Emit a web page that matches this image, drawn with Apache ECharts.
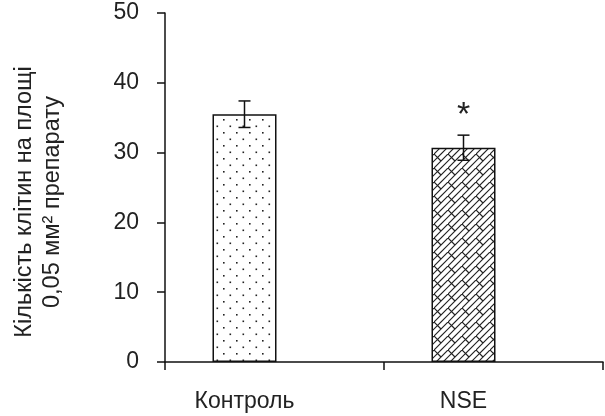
<!DOCTYPE html>
<html>
<head>
<meta charset="utf-8">
<script src="https://cdn.jsdelivr.net/npm/echarts@6/dist/echarts.min.js"></script>
<style>
html,body{margin:0;padding:0;background:#fff;}
#c{width:605px;height:416px;}
</style>
</head>
<body>
<div id="c"></div>
<script>
// ---- data ----
var categories = ['Контроль', 'NSE'];
var means = [35.5, 30.7];
var errors = [1.9, 1.8];
var significance = ['', '*'];
var yTicks = [0, 10, 20, 30, 40, 50];
var yTitle = 'Кількість клітин на площі\n0,05 мм² препарату';

// ---- patterns ----
function dotPattern() {
  var c = document.createElement('canvas');
  c.width = 13; c.height = 13;
  var g = c.getContext('2d');
  g.fillStyle = '#fff'; g.fillRect(0, 0, 13, 13);
  g.fillStyle = '#222';
  g.fillRect(2, 2, 1.6, 1.6);
  g.fillRect(8.5, 8.5, 1.6, 1.6);
  return c;
}
function hatchPattern() {
  var s = 14;
  var c = document.createElement('canvas');
  c.width = s; c.height = s;
  var g = c.getContext('2d');
  g.fillStyle = '#fff'; g.fillRect(0, 0, s, s);
  g.strokeStyle = '#222'; g.lineWidth = 1.2;
  g.beginPath();
  g.moveTo(-1, s + 1); g.lineTo(s + 1, -1);
  g.moveTo(s / 2 - 1, s + 1); g.lineTo(s + 1, s / 2 - 1);
  g.moveTo(-1, s / 2 + 1); g.lineTo(s / 2 + 1, -1);
  g.moveTo(0, 0); g.lineTo(s / 2, s / 2);
  g.stroke();
  return c;
}
var patterns = [dotPattern(), hatchPattern()];

var chart = echarts.init(document.getElementById('c'), null, {renderer: 'canvas'});
var font = '"Liberation Sans", Arial, sans-serif';

var option = {
  animation: false,
  backgroundColor: '#fff',
  grid: [
    {left: 165, right: 2, top: 13, bottom: 54},
    {left: 135, right: 32, top: 13, bottom: 54}
  ],
  xAxis: [
    {
      gridIndex: 0, type: 'category', data: categories,
      axisLine: {lineStyle: {color: '#111', width: 1.5}},
      axisTick: {show: true, length: 8, lineStyle: {color: '#111', width: 1.5}},
      axisLabel: {show: false},
      splitLine: {show: false}
    },
    {
      gridIndex: 1, type: 'category', data: categories,
      axisLine: {show: false}, axisTick: {show: false},
      axisLabel: {margin: 28, fontSize: 23, color: '#222', fontFamily: font},
      splitLine: {show: false}
    }
  ],
  yAxis: [
    {
      gridIndex: 0, type: 'value', min: 0, max: 50, interval: 10,
      axisLine: {show: true, lineStyle: {color: '#111', width: 1.5}},
      axisTick: {show: true, length: 8, lineStyle: {color: '#111', width: 1.5}},
      axisLabel: {margin: 26, fontSize: 23, color: '#222', fontFamily: font,
        formatter: function (v) { return yTicks.indexOf(v) >= 0 ? String(v) : ''; }},
      splitLine: {show: false}
    },
    {
      gridIndex: 1, type: 'value', min: 0, max: 50, interval: 10, show: false
    }
  ],
  graphic: [{
    type: 'text', x: 39, y: 202, rotation: Math.PI / 2,
    style: {
      text: yTitle, fontSize: 23.5, lineHeight: 28, fontFamily: font,
      fill: '#222', align: 'center', verticalAlign: 'middle'
    }
  }],
  series: [
    {
      type: 'bar', xAxisIndex: 1, yAxisIndex: 1, barWidth: 64,
      data: means.map(function (m, i) {
        return {value: m, itemStyle: {color: {image: patterns[i], repeat: 'repeat'}}};
      }),
      itemStyle: {borderColor: '#111', borderWidth: 1.5}
    },
    {
      type: 'custom', xAxisIndex: 1, yAxisIndex: 1,
      data: means.map(function (m, i) { return [i, m + errors[i], m - errors[i]]; }),
      renderItem: function (params, api) {
        var i = api.value(0);
        var top = api.coord([i, api.value(1)]);
        var bot = api.coord([i, api.value(2)]);
        var hw = 6;
        var st = {stroke: '#111', lineWidth: 1.5};
        var children = [
          {type: 'line', shape: {x1: top[0], y1: top[1], x2: bot[0], y2: bot[1]}, style: st},
          {type: 'line', shape: {x1: top[0] - hw, y1: top[1], x2: top[0] + hw, y2: top[1]}, style: st},
          {type: 'line', shape: {x1: bot[0] - hw, y1: bot[1], x2: bot[0] + hw, y2: bot[1]}, style: st}
        ];
        if (significance[i]) {
          children.push({type: 'text', x: top[0], y: top[1] - 20,
            style: {text: significance[i], fontSize: 34, fontFamily: font, fill: '#222',
              align: 'center', verticalAlign: 'middle'}});
        }
        return {type: 'group', children: children};
      },
      z: 5
    }
  ]
};
chart.setOption(option);
</script>
</body>
</html>
